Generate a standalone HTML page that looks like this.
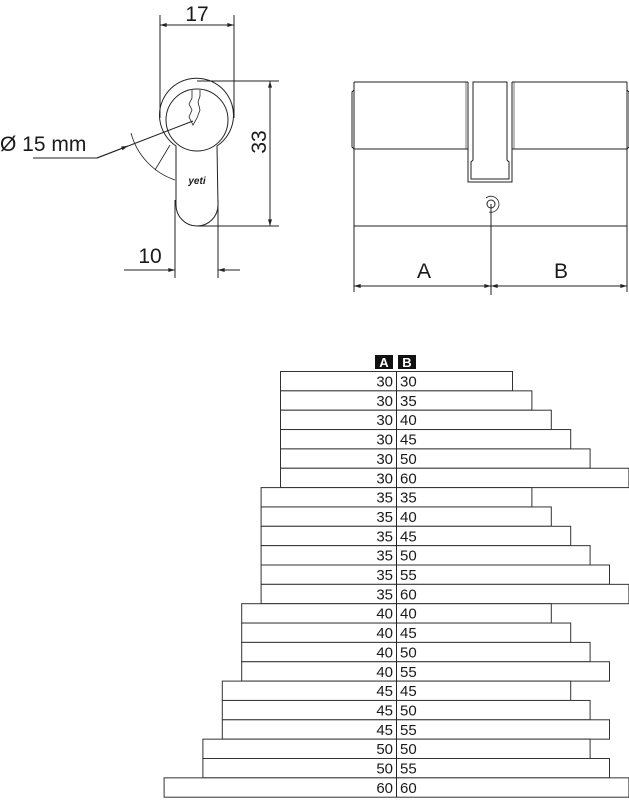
<!DOCTYPE html>
<html><head><meta charset="utf-8"><style>
html,body{margin:0;padding:0;background:#fff;}
svg{display:block;}
text{font-family:"Liberation Sans",Arial,sans-serif;fill:#1a1a1a;}
</style></head><body>
<svg width="629" height="800" viewBox="0 0 629 800" xmlns="http://www.w3.org/2000/svg">
<defs>
<marker id="ar" viewBox="0 0 10 6" refX="10" refY="3" markerWidth="10" markerHeight="4" markerUnits="userSpaceOnUse" orient="auto-start-reverse"><path d="M0,0 L10,3 L0,6 z" fill="#222"/></marker>
</defs>
<g stroke="#222" fill="none" stroke-width="1">
<!-- left drawing -->
<path d="M176,146 A37,37 0 1 1 217,146 L218,205 A21,21 0 0 1 176,205 Z"/>
<circle cx="197" cy="120" r="31"/>
<path d="M192,90 L192,98 L189,104 L192,110 L189,117 L193,125 L197,118 L200,110 L198,102 L200,96 L200,90" stroke-width="0.8"/>
<!-- dim 17 -->
<line x1="160" y1="15" x2="160" y2="118"/>
<line x1="234" y1="15" x2="234" y2="118"/>
<line x1="160" y1="25" x2="234" y2="25" marker-start="url(#ar)" marker-end="url(#ar)"/>
<!-- dim 33 -->
<line x1="197" y1="81" x2="279" y2="81"/>
<line x1="197" y1="226" x2="279" y2="226"/>
<line x1="270" y1="81" x2="270" y2="226" marker-start="url(#ar)" marker-end="url(#ar)"/>
<!-- dim 10 -->
<line x1="175" y1="200" x2="175" y2="278"/>
<line x1="218" y1="200" x2="218" y2="278"/>
<line x1="124" y1="270" x2="175" y2="270" marker-end="url(#ar)"/>
<line x1="240" y1="270" x2="218" y2="270" marker-end="url(#ar)"/>
<!-- diameter leader -->
<polyline points="33,158 97,158 193,121"/>
<line x1="97" y1="158" x2="128" y2="146" marker-end="url(#ar)"/>
<path d="M131,133 A68,68 0 0 0 175,180" stroke-width="0.8"/>
<line x1="155" y1="170" x2="170" y2="145" stroke-width="0.8"/>
<!-- right drawing -->
<line x1="354" y1="82" x2="468" y2="82"/>
<line x1="512" y1="82" x2="627" y2="82"/>
<line x1="354" y1="149" x2="468" y2="149"/>
<line x1="512" y1="149" x2="627" y2="149"/>
<line x1="354" y1="226" x2="627" y2="226"/>
<line x1="354" y1="82" x2="354" y2="292"/>
<line x1="627" y1="82" x2="627" y2="292"/>
<path d="M354,90 L352,92 L352,147 L354,149"/>
<path d="M627,90 L629,92 L629,147 L627,149"/>
<path d="M468,82 L468,182 L512,182 L512,82"/>
<path d="M473,82 L473,160 L471,162 L471,179 L509,179 L509,162 L507,160 L507,82 Z"/>
<line x1="466" y1="82" x2="466" y2="149" stroke-width="0.6"/>
<line x1="514" y1="82" x2="514" y2="149" stroke-width="0.6"/>
<circle cx="491" cy="204" r="4"/>
<path d="M486,198 A8,8 0 1 1 489,212" stroke-width="0.8"/>
<line x1="491" y1="204" x2="491" y2="295"/>
<line x1="354" y1="286" x2="491" y2="286" marker-start="url(#ar)" marker-end="url(#ar)"/>
<line x1="491" y1="286" x2="627" y2="286" marker-start="url(#ar)" marker-end="url(#ar)"/>
</g>
<text x="197" y="21" font-size="21" text-anchor="middle">17</text>
<text x="150" y="263" font-size="21" text-anchor="middle">10</text>
<text x="0" y="151" font-size="21">Ø 15 mm</text>
<text transform="translate(266,142) rotate(-90)" font-size="21" text-anchor="middle">33</text>
<text x="424" y="278" font-size="21" text-anchor="middle">A</text>
<text x="561" y="278" font-size="21" text-anchor="middle">B</text>
<text x="197" y="184" font-size="10" font-style="italic" font-weight="bold" text-anchor="middle" font-family="Liberation Serif">yeti</text>
<!-- table header -->
<rect x="375" y="355" width="18" height="14" fill="#111"/>
<rect x="398" y="355" width="18" height="14" fill="#111"/>
<text x="384" y="367" font-size="13" font-weight="bold" text-anchor="middle" style="fill:#fff">A</text>
<text x="407" y="367" font-size="13" font-weight="bold" text-anchor="middle" style="fill:#fff">B</text>
<g id="tbl" stroke="#333" stroke-width="1" fill="#fff">
</g>
<script>
var rows=[[30,30],[30,35],[30,40],[30,45],[30,50],[30,60],[35,35],[35,40],[35,45],[35,50],[35,55],[35,60],[40,40],[40,45],[40,50],[40,55],[45,45],[45,50],[45,55],[50,50],[50,55],[60,60]];
var g=document.getElementById('tbl'),ns='http://www.w3.org/2000/svg',svg=g.ownerSVGElement;
rows.forEach(function(r,i){
 var y=371.5+i*19.35,l=280-(r[0]-30)*3.88,rt=512+(r[1]-30)*3.88;
 var re=document.createElementNS(ns,'rect');
 re.setAttribute('x',l+0.5);re.setAttribute('y',y);re.setAttribute('width',rt-l);re.setAttribute('height',19.35);
 g.appendChild(re);
});
var ln=document.createElementNS(ns,'line');
ln.setAttribute('x1',396.5);ln.setAttribute('x2',396.5);ln.setAttribute('y1',371);ln.setAttribute('y2',797);
ln.setAttribute('stroke','#222');svg.appendChild(ln);
rows.forEach(function(r,i){
 var y=371.5+i*19.35+15;
 var t=document.createElementNS(ns,'text');t.setAttribute('x',393);t.setAttribute('y',y);t.setAttribute('font-size','15');t.setAttribute('text-anchor','end');t.textContent=r[0];svg.appendChild(t);
 var t2=document.createElementNS(ns,'text');t2.setAttribute('x',400);t2.setAttribute('y',y);t2.setAttribute('font-size','15');t2.textContent=r[1];svg.appendChild(t2);
});
</script>
</svg>
</body></html>
